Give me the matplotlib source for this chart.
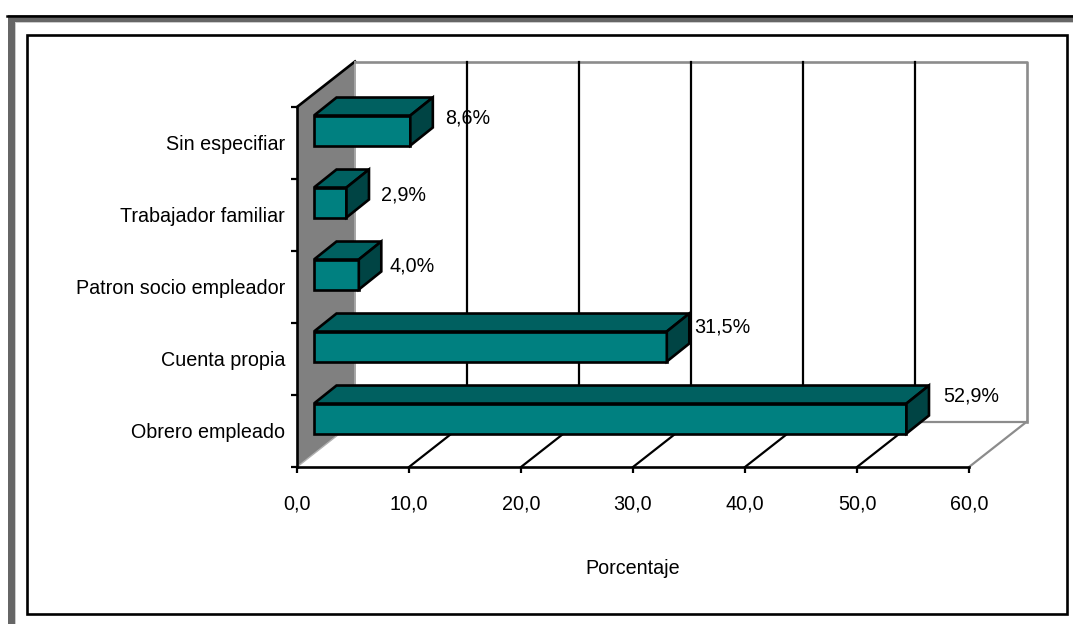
import matplotlib
matplotlib.use('Agg')
import matplotlib.pyplot as plt
from matplotlib.patches import Polygon, Rectangle

# Data, bottom to top as drawn
categories = ['Obrero empleado', 'Cuenta propia', 'Patron socio empleador', 'Trabajador familiar', 'Sin especifiar']
values = [52.9, 31.5, 4.0, 2.9, 8.6]
value_labels = ['52,9%', '31,5%', '4,0%', '2,9%', '8,6%']
x_ticks = [0, 10, 20, 30, 40, 50, 60]
x_tick_labels = ['0,0', '10,0', '20,0', '30,0', '40,0', '50,0', '60,0']
x_title = 'Porcentaje'

W, H = 1073, 624
FACE, TOP, SIDE = '#008080', '#006060', '#004444'
WALL = '#808080'
EDGE = '#8c8c8c'
LW = 1.9
FS = 14.2

plt.rcParams['font.family'] = ['Liberation Sans']

fig = plt.figure(figsize=(W / 100, H / 100), dpi=100, facecolor='white')

# Frames are drawn in pixel coordinates on a full-figure axes
bg = fig.add_axes([0, 0, 1, 1], zorder=0)
bg.set_xlim(0, W)
bg.set_ylim(H, 0)
bg.axis('off')
bg.add_patch(Rectangle((7.5, 15), W, H, fc='#666666', ec='none'))
bg.add_patch(Rectangle((15, 21.5), W, H, fc='#cccccc', ec='none'))
bg.add_patch(Rectangle((16, 23), W, H, fc='white', ec='none'))
bg.plot([6.5, W], [15.5, 15.5], color='black', lw=1.8)
bg.add_patch(Rectangle((26.5, 34.5), 1040.5, 579.5, fc='none', ec='black', lw=1.9))

# Plot axes: front floor edge of the 3D box
ax = fig.add_axes([297 / W, 1 - 467 / H, 672 / W, 360 / H], zorder=1)
ax.patch.set_alpha(0)
ax.set_xlim(0, 60)
ax.set_ylim(0, 5)

# Depth of the box and of the bars, in data units
dx, dy = 58 / 11.2, 45.5 / 72
bar_dx, bar_dy = 22.5 / 11.2, 18 / 72
bar_x0 = 17 / 11.2
bar_y0 = 0.465
bar_h = 30 / 72

line = dict(clip_on=False, solid_capstyle='projecting')

# Left wall
ax.add_patch(Polygon([(0, 0), (dx, dy), (dx, 5 + dy), (0, 5)], fc=WALL, ec='none', clip_on=False, zorder=1))
ax.plot([0, dx], [5, 5 + dy], color='black', lw=LW, zorder=2, **line)
ax.plot([dx, dx], [dy, 5 + dy], color='#a6a6a6', lw=1.4, zorder=2, **line)
ax.plot([0, dx], [0, dy], color='#b0b0b0', lw=1.0, zorder=2, **line)

# Back wall and floor outline
ax.plot([dx, 60 + dx, 60 + dx], [5 + dy, 5 + dy, dy], color=EDGE, lw=LW, zorder=2, **line)
ax.plot([dx, 60 + dx], [dy, dy], color=EDGE, lw=1.6, zorder=2, **line)
ax.plot([60, 60 + dx], [0, dy], color=EDGE, lw=1.6, zorder=2, **line)

# Gridlines on back wall and floor
for t in x_ticks[1:-1]:
    ax.plot([t + dx, t + dx], [dy, 5 + dy], color='black', lw=1.6, zorder=3, **line)
    ax.plot([t, t + dx], [0, dy], color='black', lw=1.6, zorder=3, **line)

# Bars
for i, v in enumerate(values):
    y0 = i + bar_y0
    y1 = y0 + bar_h
    x0, x1 = bar_x0, bar_x0 + v
    ax.barh(y0, v, height=bar_h, left=x0, align='edge', color=FACE, edgecolor='black', lw=LW, zorder=5, clip_on=False)
    ax.add_patch(Polygon([(x0, y1), (x0 + bar_dx, y1 + bar_dy), (x1 + bar_dx, y1 + bar_dy), (x1, y1)],
                         fc=TOP, ec='black', lw=LW, joinstyle='miter', clip_on=False, zorder=5))
    ax.add_patch(Polygon([(x1, y0), (x1 + bar_dx, y0 + bar_dy), (x1 + bar_dx, y1 + bar_dy), (x1, y1)],
                         fc=SIDE, ec='black', lw=LW, joinstyle='miter', clip_on=False, zorder=5))

# Value labels, nudged by hand in pixels like the original
nudges = [(37, 8), (27, 5), (31, -6), (35, -7), (35, -2)]
for i, (v, lab) in enumerate(zip(values, value_labels)):
    y1 = i + bar_y0 + bar_h
    ax.annotate(lab, (bar_x0 + v, y1), xytext=nudges[i], textcoords='offset pixels',
                ha='left', va='center', fontsize=FS, color='black', zorder=6, annotation_clip=False)

# Axes furniture
for s in ('top', 'right'):
    ax.spines[s].set_visible(False)
for s in ('left', 'bottom'):
    ax.spines[s].set_linewidth(LW)
    ax.spines[s].set_zorder(4)

ax.set_xticks(x_ticks, x_tick_labels)
ax.set_yticks(range(6), [''] * 6)
ax.set_yticks([i + 0.5 for i in range(5)], categories, minor=True)
ax.tick_params(axis='x', length=4.5, width=1.6, pad=15, labelsize=FS)
ax.tick_params(axis='y', which='major', length=4.5, width=1.6)
ax.tick_params(axis='y', which='minor', length=0, pad=8.6, labelsize=FS)
ax.set_xlabel(x_title, fontsize=FS, labelpad=33)

fig.savefig('out.png', dpi=100)
plt.close(fig)
